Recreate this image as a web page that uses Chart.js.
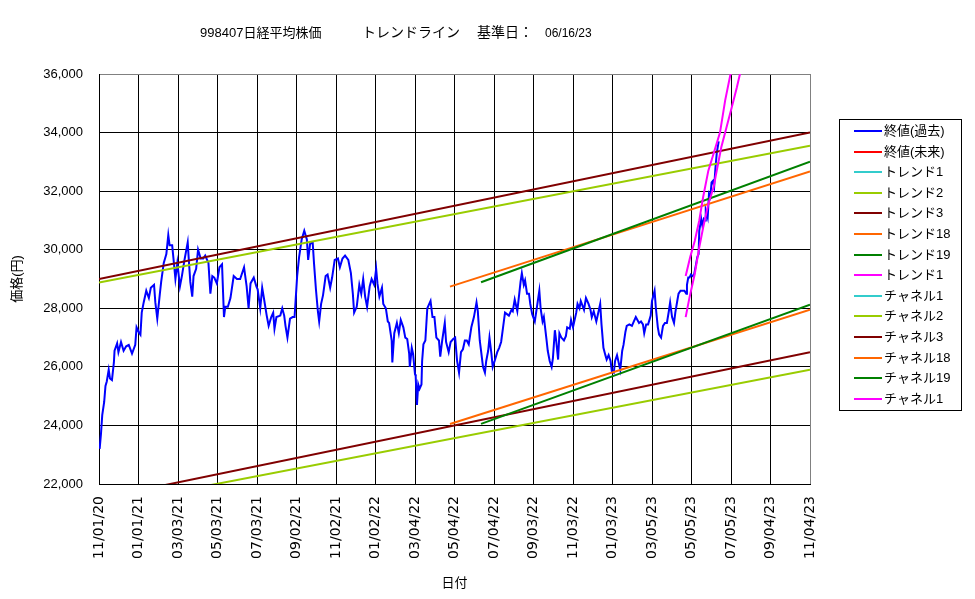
<!DOCTYPE html>
<html>
<head>
<meta charset="utf-8">
<title>998407日経平均株価 トレンドライン</title>
<script src="https://cdn.jsdelivr.net/npm/chart.js@4.4.0/dist/chart.umd.min.js"></script>
<style>
  html, body { margin: 0; padding: 0; background: #fff; }
  #wrap { width: 975px; height: 599px; }
</style>
</head>
<body>
<div id="wrap"><canvas id="chart" width="975" height="599"></canvas></div>
<script>
// x values are days counted from 11/01/20 (left end of the date axis)
const tickDays = [0, 61, 122, 183, 244, 305, 366, 427, 488, 549, 610, 671, 732, 793, 854, 915, 976, 1037, 1098];
const tickLabels = ['11/01/20', '01/01/21', '03/03/21', '05/03/21', '07/03/21', '09/02/21', '11/02/21',
  '01/02/22', '03/04/22', '05/04/22', '07/04/22', '09/03/22', '11/03/22', '01/03/23', '03/05/23',
  '05/05/23', '07/05/23', '09/04/23', '11/04/23'];

// 終値(過去)
const closeDays = [
  1, 3, 5, 8, 10, 12, 15, 17, 20, 23, 24, 28, 30, 34, 38, 42, 46, 51, 56, 58,
  61, 64, 66, 69, 73, 77, 80, 85, 87, 90, 94, 96, 100, 104, 107, 109, 113, 115, 118, 121,
  125, 128, 132, 137, 139, 141, 144, 146, 150, 153, 157, 161, 164, 169, 172, 175, 178, 182, 186, 190,
  193, 195, 199, 203, 208, 213, 218, 224, 228, 231, 234, 239, 243,
  245, 249, 252, 255, 259, 262, 266, 269, 271, 274, 280, 283, 286, 288, 291, 295, 299, 302, 304, 306,
  309, 313, 317, 321, 323, 326, 330, 332, 335, 338, 340, 343, 346, 350, 353, 357, 360, 364, 369, 372,
  376, 380, 385, 389, 392, 394, 398, 402, 405, 408, 411, 414, 418, 421, 425, 428, 430, 433, 437, 439,
  443, 446, 448, 452, 453, 456, 460, 463, 466, 470, 473, 476, 479, 480, 483, 485,
  488, 489, 491, 493, 495, 498, 499, 501, 504, 507, 510, 512, 515, 518, 521, 525, 527, 530, 534, 536,
  540, 543, 547, 550, 553, 556, 559, 562, 565, 568, 571, 575, 579, 583, 585, 588, 590, 593, 596, 598,
  601, 603, 606, 608, 611, 615, 618, 621, 624, 627, 630, 633, 637, 639, 642, 646, 649, 651, 653, 656,
  658, 661, 664, 666, 669, 673, 676, 680, 682, 685, 687, 691, 693, 696, 699, 701, 704, 706, 709, 711,
  714, 718, 721, 723, 727, 729,
  732, 737, 739, 742, 744, 749, 752, 756, 759, 761, 764, 768, 771, 774, 776, 779, 782, 784, 787, 790,
  792, 795, 797, 800, 803, 805, 808, 810, 813, 815, 819, 823, 826, 829, 834, 837, 840, 842, 845, 848,
  852, 854, 858, 860, 863, 865, 868, 871, 874, 877, 880, 882, 885, 888, 890, 893, 895, 898, 901, 904,
  907, 908, 910, 912, 914, 917, 919, 922, 924, 926, 927, 930, 932, 934, 936, 937, 940, 942, 944, 946,
  948, 950, 952, 954, 957
];
const closeValues = [
  23200, 23700, 24350, 24800, 25350, 25500, 25900, 25600, 25550, 26150, 26550, 26800, 26500, 26850, 26550, 26700, 26750, 26450, 26750, 27350,
  27200, 27100, 27850, 28200, 28600, 28350, 28700, 28800, 28200, 27650, 28500, 28900, 29550, 29850, 30500, 30150, 30150, 29700, 29000, 29550,
  28750, 29100, 29650, 30250, 29550, 28900, 28400, 29100, 29350, 30000, 29700, 29700, 29800, 29550, 28500, 29100, 29050, 28850, 29400, 29500,
  27700, 28050, 28050, 28350, 29100, 29000, 29000, 29400, 28750, 28000, 28850, 29050, 28750,
  28650, 28000, 28700, 28300, 27750, 27400, 27700, 27850, 27300, 27700, 27750, 28000, 27750, 27400, 27000, 27650, 27700, 27700, 28400, 29100,
  29750, 30350, 30650, 30350, 29650, 30200, 30250, 29550, 28650, 27900, 27550, 28150, 28450, 29100, 29150, 28700, 29050, 29650, 29700, 29400,
  29700, 29800, 29650, 29200, 28500, 27850, 28050, 28800, 28500, 29000, 28400, 28050, 28750, 29000, 28800, 29350, 28850, 28400, 28700, 28150,
  28000, 27550, 27500, 26900, 26150, 27150, 27500, 27150, 27600, 27350, 27000, 26950, 26450, 26000, 26650, 26450,
  25750, 25700, 24700, 25400, 25250, 25400, 26200, 26770, 26900, 28000, 28150, 28250, 27700, 27700, 27000, 26900, 26350, 26900, 27500, 26850,
  26500, 26850, 26950, 27000, 26200, 25800, 26500, 26600, 26900, 26900, 26770, 27350, 27700, 28200, 27900, 26900, 26550, 26000, 25800, 26200,
  26550, 27000, 26450, 26000, 26200, 26500, 26650, 26850, 27350, 27850, 27800, 27750, 27950, 27900, 28300, 27900, 28500, 28900, 29200, 28800,
  28950, 28500, 28500, 28150, 27800, 27550, 28000, 28600, 28000, 27550, 27700, 26950, 26550, 26200, 26000, 26300, 27250, 26900, 26250, 27150,
  27000, 26900, 27050, 27350, 27300, 27600,
  27350, 27850, 28150, 28000, 28250, 27950, 28350, 28150, 27950, 27700, 27900, 27550, 27850, 28150, 27450, 26650, 26400, 26250, 26400, 26200,
  25850, 25800, 26200, 26400, 26100, 25900, 26550, 26750, 27200, 27400, 27450, 27400, 27550, 27700, 27500, 27550, 27450, 27150, 27450, 27450,
  27750, 28250, 28600, 28000, 27350, 27100, 27000, 27400, 27500, 27500, 27900, 28200, 27700, 27500, 27850, 28250, 28500, 28600, 28600, 28600,
  28500, 28800, 29050, 29050, 29150, 29100, 29150, 29500, 29750, 29850, 30650, 31050, 30800, 31050, 31000, 31350, 31100, 31900, 31800, 32300,
  32350, 32150, 32800, 33300, 33700
];

// トレンド / チャネル lines
const trend2Days = [0, 1098];
const trend2Values = [28880, 33550];
const trend3Days = [0, 1098];
const trend3Values = [29000, 34000];
const trend18Days = [542, 1098];
const trend18Values = [28740, 32670];
const trend19Days = [590, 1098];
const trend19Values = [28890, 33010];
const trend1Days = [906, 913, 920, 927, 933, 941, 948, 959, 967, 978];
const trend1Values = [29100, 29750, 30300, 31000, 31800, 32700, 33200, 34000, 35100, 36300];
const channel2Days = [0, 1098];
const channel2Values = [21230, 25900];
const channel3Days = [0, 1098];
const channel3Values = [21500, 26500];
const channel18Days = [542, 1098];
const channel18Values = [24050, 27950];
const channel19Days = [590, 1098];
const channel19Values = [24055, 28120];
const channel1Days = [906, 912, 920, 927, 933, 941, 949, 954, 961, 969, 977, 985, 993];
const channel1Values = [27700, 28380, 29170, 30080, 30760, 31560, 32120, 32700, 33500, 34170, 34850, 35540, 36300];

const seriesNames = ['終値(過去)', '終値(未来)', 'トレンド1', 'トレンド2', 'トレンド3', 'トレンド18', 'トレンド19',
  'トレンド1', 'チャネル1', 'チャネル2', 'チャネル3', 'チャネル18', 'チャネル19', 'チャネル1'];
const seriesColors = ['#0000FF', '#FF0000', '#33CCCC', '#99CC00', '#800000', '#FF6600', '#008000',
  '#FF00FF', '#33CCCC', '#99CC00', '#800000', '#FF6600', '#008000', '#FF00FF'];
const seriesData = [
  [closeDays, closeValues], [[], []], [[], []], [trend2Days, trend2Values], [trend3Days, trend3Values],
  [trend18Days, trend18Values], [trend19Days, trend19Values], [trend1Days, trend1Values],
  [[], []], [channel2Days, channel2Values], [channel3Days, channel3Values],
  [channel18Days, channel18Values], [channel19Days, channel19Values], [channel1Days, channel1Values]
];

const FONT = '"Liberation Sans", "Noto Sans CJK JP", sans-serif';

function points(days, vals) {
  return days.map((d, i) => ({ x: d, y: vals[i] }));
}

// white page + title
const titlePlugin = {
  id: 'titleText',
  beforeDraw(chart) {
    const ctx = chart.ctx;
    ctx.save();
    ctx.fillStyle = '#fff';
    ctx.fillRect(0, 0, chart.width, chart.height);
    ctx.restore();
  },
  afterDraw(chart) {
    const ctx = chart.ctx;
    ctx.save();
    ctx.fillStyle = '#000';
    ctx.textBaseline = 'middle';
    ctx.textAlign = 'left';
    ctx.font = '13px ' + FONT;
    ctx.fillText('998407日経平均株価', 200, 33);
    ctx.font = '14px ' + FONT;
    ctx.fillText('トレンドライン', 362, 33);
    ctx.fillText('基準日：', 477, 33);
    ctx.font = '12px ' + FONT;
    ctx.fillText('06/16/23', 545, 34);
    ctx.restore();
  }
};

// boxed legend on the right
const boxLegend = {
  id: 'boxLegend',
  afterDraw(chart) {
    const ctx = chart.ctx;
    const sets = chart.data.datasets;
    const left = 839, top = 119, right = 961, bottom = 410, rowH = 20.6, firstY = 131;
    ctx.save();
    ctx.strokeStyle = '#000';
    ctx.lineWidth = 1;
    ctx.strokeRect(left + 0.5, top + 0.5, right - left, bottom - top);
    ctx.font = '13px ' + FONT;
    ctx.textBaseline = 'middle';
    ctx.fillStyle = '#000';
    sets.forEach((ds, i) => {
      const y = Math.round(firstY + rowH * i);
      ctx.strokeStyle = ds.borderColor;
      ctx.lineWidth = 2;
      ctx.beginPath();
      ctx.moveTo(854, y);
      ctx.lineTo(882, y);
      ctx.stroke();
      ctx.fillText(ds.label, 884, y);
    });
    ctx.restore();
  }
};

new Chart(document.getElementById('chart'), {
  type: 'line',
  data: {
    datasets: seriesNames.map((name, i) => ({
      label: name,
      data: points(seriesData[i][0], seriesData[i][1]),
      borderColor: seriesColors[i],
      backgroundColor: seriesColors[i],
      borderWidth: 2,
      pointRadius: 0,
      tension: 0,
      fill: false,
      order: seriesNames.length - i
    }))
  },
  options: {
    responsive: false,
    animation: false,
    devicePixelRatio: 1,
    layout: { padding: { top: 74, right: 165, left: 0, bottom: 0 } },
    plugins: {
      legend: { display: false },
      tooltip: { enabled: false }
    },
    scales: {
      x: {
        type: 'linear',
        min: 0,
        max: 1098,
        afterBuildTicks(scale) {
          scale.ticks = tickDays.map(v => ({ value: v }));
        },
        afterFit(scale) { scale.height = 115; },
        ticks: {
          autoSkip: false,
          minRotation: 90,
          maxRotation: 90,
          padding: 12,
          color: '#000',
          font: { family: '"DejaVu Sans", sans-serif', size: 14 },
          callback: v => tickLabels[tickDays.indexOf(v)]
        },
        grid: {
          color: ctx => (ctx.tick && ctx.tick.value === 1098 ? '#808080' : '#000'),
          lineWidth: 1,
          drawTicks: false
        },
        border: { color: '#000', width: 1 },
        title: {
          display: true,
          text: '日付',
          color: '#000',
          font: { family: FONT, size: 13 },
          padding: { top: 0, bottom: 8 }
        }
      },
      y: {
        min: 22000,
        max: 36000,
        afterFit(scale) { scale.width = 99; },
        ticks: {
          stepSize: 2000,
          padding: 16,
          color: '#000',
          font: { family: FONT, size: 13 },
          callback: v => v.toLocaleString('en-US')
        },
        grid: {
          color: ctx => (ctx.tick && ctx.tick.value === 36000 ? '#808080' : '#000'),
          lineWidth: 1,
          drawTicks: false
        },
        border: { color: '#000', width: 1 },
        title: {
          display: true,
          text: '価格(円)',
          color: '#000',
          font: { family: FONT, size: 13 },
          padding: { top: 10, bottom: 0 }
        }
      }
    }
  },
  plugins: [titlePlugin, boxLegend]
});
</script>
</body>
</html>
